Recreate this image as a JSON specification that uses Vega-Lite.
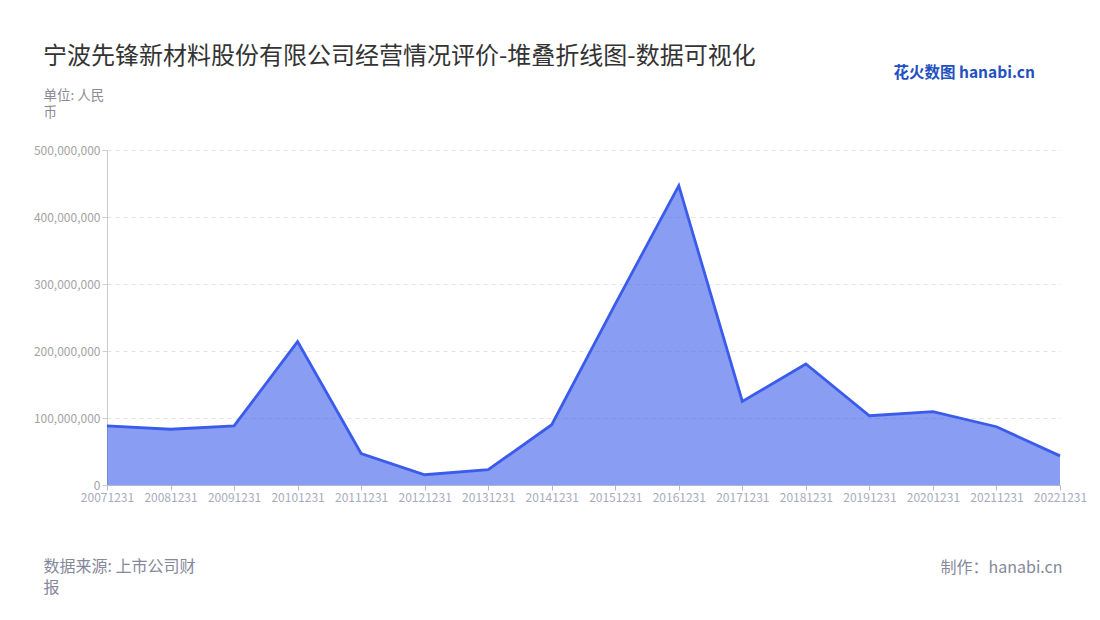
{
  "$schema": "https://vega.github.io/schema/vega-lite/v6.json",
  "width": 953,
  "height": 335,
  "autosize": {"type": "none"},
  "padding": {"left": 107, "top": 150, "right": 40, "bottom": 135},
  "background": "white",
  "config": {
    "font": "Noto Sans CJK SC",
    "view": {"stroke": null}
  },
  "title": {
    "text": "宁波先锋新材料股份有限公司经营情况评价-堆叠折线图-数据可视化",
    "anchor": "start",
    "frame": "group",
    "dx": -64,
    "offset": -4,
    "fontSize": 24,
    "fontWeight": "normal",
    "color": "#333333"
  },
  "data": {
    "values": [
      {"date": "20071231", "value": 88200000},
      {"date": "20081231", "value": 83200000},
      {"date": "20091231", "value": 88200000},
      {"date": "20101231", "value": 214000000},
      {"date": "20111231", "value": 47000000},
      {"date": "20121231", "value": 15300000},
      {"date": "20131231", "value": 22800000},
      {"date": "20141231", "value": 90000000},
      {"date": "20151231", "value": 270000000},
      {"date": "20161231", "value": 446700000},
      {"date": "20171231", "value": 124800000},
      {"date": "20181231", "value": 180600000},
      {"date": "20191231", "value": 103400000},
      {"date": "20201231", "value": 109600000},
      {"date": "20211231", "value": 87000000},
      {"date": "20221231", "value": 43500000}
    ]
  },
  "resolve": {"axis": {"x": "independent", "y": "independent"}},
  "layer": [
    {
      "mark": {"type": "area", "color": "#3b5bea", "opacity": 0.6},
      "encoding": {
        "x": {
          "field": "date",
          "type": "ordinal",
          "scale": {"type": "point", "padding": 0},
          "axis": {
            "labelAngle": 0,
            "labelColor": "#a8abbd",
            "labelFontSize": 12,
            "tickColor": "#b3b8d0",
            "domainColor": "#b3b8d0",
            "tickSize": 5,
            "grid": false,
            "title": ["数据来源: 上市公司财", "报"],
            "titleX": -64,
            "titleY": 73,
            "titleAlign": "left",
            "titleBaseline": "top",
            "titleAngle": 0,
            "titleFontSize": 16,
            "titleLineHeight": 21,
            "titleFontWeight": "normal",
            "titleColor": "#85889a"
          }
        },
        "y": {
          "field": "value",
          "type": "quantitative",
          "scale": {"domain": [0, 500000000], "nice": false},
          "axis": {
            "values": [0, 100000000, 200000000, 300000000, 400000000, 500000000],
            "format": ",d",
            "labelColor": "#a3a3a3",
            "labelFontSize": 12,
            "tickColor": "#cccccc",
            "domainColor": "#cccccc",
            "tickSize": 5,
            "grid": true,
            "gridDash": [4, 4],
            "gridColor": "#e3e3e3",
            "title": ["单位: 人民", "币"],
            "titleX": -64,
            "titleY": -62,
            "titleAlign": "left",
            "titleBaseline": "top",
            "titleAngle": 0,
            "titleFontSize": 13.5,
            "titleLineHeight": 17,
            "titleFontWeight": "normal",
            "titleColor": "#8a8a95"
          }
        }
      }
    },
    {
      "mark": {"type": "line", "color": "#3b5bea", "strokeWidth": 2.8},
      "encoding": {
        "x": {
          "field": "date",
          "type": "ordinal",
          "axis": {
            "orient": "top",
            "labels": false,
            "ticks": false,
            "domain": false,
            "grid": false,
            "title": "花火数图 hanabi.cn",
            "titleX": 786,
            "titleY": -78,
            "titleAlign": "left",
            "titleBaseline": "middle",
            "titleAngle": 0,
            "titleFontSize": 15.5,
            "titleFontWeight": "bold",
            "titleColor": "#2350c0"
          }
        },
        "y": {
          "field": "value",
          "type": "quantitative",
          "axis": {
            "orient": "right",
            "labels": false,
            "ticks": false,
            "domain": false,
            "grid": false,
            "title": "制作：hanabi.cn",
            "titleX": 2,
            "titleY": 409,
            "titleAlign": "right",
            "titleBaseline": "top",
            "titleAngle": 0,
            "titleFontSize": 16,
            "titleFontWeight": "normal",
            "titleColor": "#85889a"
          }
        }
      }
    }
  ]
}
